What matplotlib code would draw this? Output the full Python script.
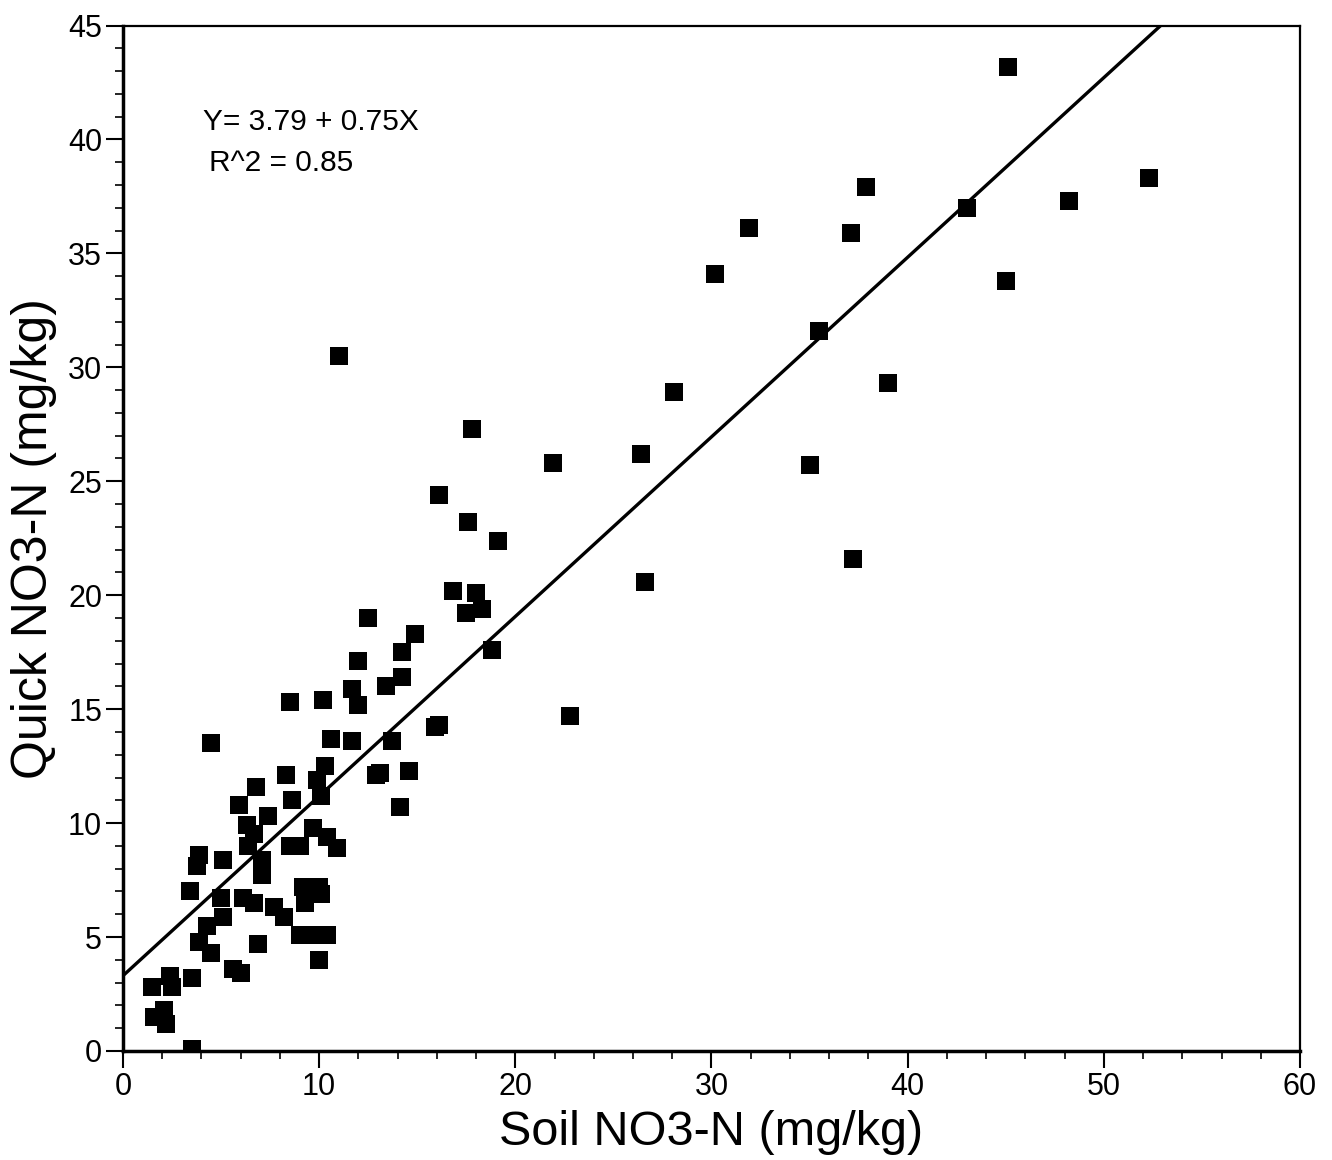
import numpy as np
import matplotlib.pyplot as plt
from matplotlib.ticker import MultipleLocator

# soil NO3-N (x) vs quick test NO3-N (y)
soil_no3 = [45.1, 52.3, 37.9, 43.0, 48.2, 31.9, 37.1, 30.2, 45.0, 35.5,
            11.0, 28.1, 39.0, 17.8, 21.9, 26.4, 35.0, 16.1, 17.6, 19.1,
            26.6, 37.2, 16.8, 18.0, 17.5, 18.3, 12.5, 14.9, 18.8, 12.0,
            14.2, 11.7, 12.0, 14.2, 13.4, 8.5, 10.2, 22.8, 15.9, 16.1,
            4.5, 10.6, 11.7, 13.7, 12.9, 13.1, 14.6, 14.1, 8.3, 10.3,
            9.9, 10.1, 8.6, 6.8, 5.9, 7.4, 6.3, 6.7, 6.4, 9.7,
            10.4, 10.9, 9.0, 8.5, 3.9, 3.8, 5.1, 7.1, 7.1, 3.4,
            5.0, 5.1, 6.7, 6.1, 7.7, 8.2, 9.2, 10.0, 9.3, 10.1,
            9.0, 9.8, 10.4, 6.9, 10.0, 4.3, 3.9, 4.5, 5.6, 6.0,
            3.5, 1.5, 2.4, 2.5, 1.6, 2.1, 2.2, 3.5]
quick_no3 = [43.2, 38.3, 37.9, 37.0, 37.3, 36.1, 35.9, 34.1, 33.8, 31.6,
             30.5, 28.9, 29.3, 27.3, 25.8, 26.2, 25.7, 24.4, 23.2, 22.4,
             20.6, 21.6, 20.2, 20.1, 19.2, 19.4, 19.0, 18.3, 17.6, 17.1,
             17.5, 15.9, 15.2, 16.4, 16.0, 15.3, 15.4, 14.7, 14.2, 14.3,
             13.5, 13.7, 13.6, 13.6, 12.1, 12.2, 12.3, 10.7, 12.1, 12.5,
             11.9, 11.2, 11.0, 11.6, 10.8, 10.3, 9.9, 9.5, 9.0, 9.8,
             9.4, 8.9, 9.0, 9.0, 8.6, 8.1, 8.4, 8.4, 7.7, 7.0,
             6.7, 5.9, 6.5, 6.7, 6.3, 5.9, 7.2, 7.2, 6.5, 6.9,
             5.1, 5.1, 5.1, 4.7, 4.0, 5.5, 4.8, 4.3, 3.6, 3.4,
             3.2, 2.8, 3.3, 2.8, 1.5, 1.8, 1.2, 0.1]

# fitted line as drawn on the chart
fit_x = [0, 52.9]
fit_y = [3.3, 45.0]

x_ticks = [0, 10, 20, 30, 40, 50, 60]
y_ticks = [0, 5, 10, 15, 20, 25, 30, 35, 40, 45]

plt.rcParams['font.family'] = ['Liberation Sans', 'DejaVu Sans']

fig = plt.figure(figsize=(13.32, 11.6), dpi=100)
ax = fig.add_axes([0.0923, 0.094, 0.8837, 0.884])

ax.plot(soil_no3, quick_no3, 's', color='black', markersize=12.5, markeredgewidth=0)
ax.plot(fit_x, fit_y, color='black', linewidth=2.4)

ax.set_xlim(0, 60)
ax.set_ylim(0, 45)
ax.set_xticks(x_ticks)
ax.set_yticks(y_ticks)
ax.xaxis.set_minor_locator(MultipleLocator(2))
ax.yaxis.set_minor_locator(MultipleLocator(1))
ax.set_xticklabels([str(t) for t in x_ticks], fontsize=22)
ax.set_yticklabels([str(t) for t in y_ticks], fontsize=22)
ax.tick_params(which='major', direction='out', length=12, width=1.5, pad=3)
ax.tick_params(which='minor', direction='out', length=6, width=1.2)

for side in ['left', 'bottom']:
    ax.spines[side].set_linewidth(2.5)
for side in ['top', 'right']:
    ax.spines[side].set_linewidth(1.6)

ax.set_xlabel('Soil NO3-N (mg/kg)', fontsize=35, labelpad=6)
ax.set_ylabel('Quick NO3-N (mg/kg)', fontsize=36, labelpad=8)

ax.text(4.1, 40.75, 'Y= 3.79 + 0.75X', fontsize=21.5, va='center')
ax.text(4.4, 38.95, 'R^2 = 0.85', fontsize=21.5, va='center')

fig.savefig('out.png', dpi=100)
